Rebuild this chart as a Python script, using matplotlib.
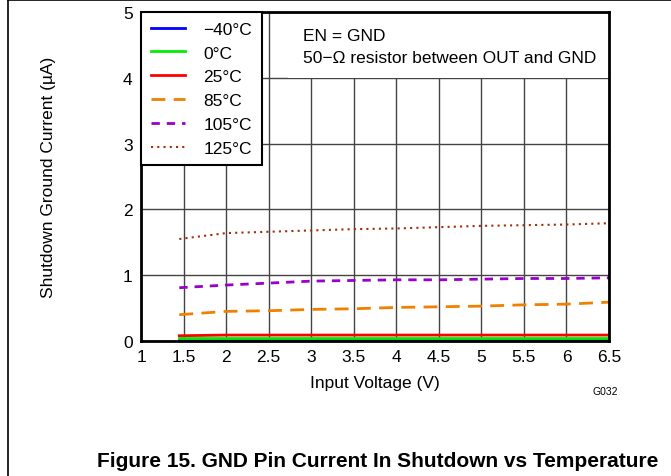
import matplotlib
matplotlib.use("Agg")
import matplotlib.pyplot as plt
from matplotlib.lines import Line2D
from matplotlib.patches import Rectangle

plt.rcParams['font.family'] = ['Liberation Sans', 'DejaVu Sans']

vin = [1.45, 2.0, 2.5, 3.0, 3.5, 4.0, 4.5, 5.0, 5.5, 6.0, 6.5]
i_m40 = [0.02, 0.02, 0.02, 0.02, 0.02, 0.02, 0.02, 0.02, 0.02, 0.02, 0.02]
i_0 = [0.05, 0.05, 0.05, 0.05, 0.05, 0.05, 0.05, 0.05, 0.05, 0.05, 0.05]
i_25 = [0.08, 0.09, 0.09, 0.09, 0.09, 0.09, 0.09, 0.09, 0.09, 0.09, 0.09]
i_85 = [0.40, 0.45, 0.46, 0.48, 0.49, 0.51, 0.52, 0.53, 0.55, 0.56, 0.59]
i_105 = [0.81, 0.85, 0.88, 0.91, 0.92, 0.93, 0.93, 0.94, 0.95, 0.95, 0.96]
i_125 = [1.55, 1.64, 1.66, 1.68, 1.70, 1.71, 1.73, 1.75, 1.76, 1.77, 1.79]

labels = ['\u221240\u00b0C', '0\u00b0C', '25\u00b0C', '85\u00b0C', '105\u00b0C', '125\u00b0C']
series = [i_m40, i_0, i_25, i_85, i_105, i_125]
colors = ['#0000FF', '#00EE00', '#FF0000', '#F08000', '#9900CC', '#A0300A']
styles = ['-', '-', '-', (0, (5, 3)), (0, (3, 2.5)), (0, (1, 2))]
widths = [2, 2, 2, 2, 2, 1.5]

xticks = [1, 1.5, 2, 2.5, 3, 3.5, 4, 4.5, 5, 5.5, 6, 6.5]
xticklabels = ['1', '1.5', '2', '2.5', '3', '3.5', '4', '4.5', '5', '5.5', '6', '6.5']
yticks = [0, 1, 2, 3, 4, 5]

FS = 12.5

fig = plt.figure(figsize=(6.71, 4.77), dpi=100)
ax = fig.add_axes([141/671, 1 - 342/477, (609-141)/671, (342-13)/477])

for y, lab, c, ls, lw in zip(series, labels, colors, styles, widths):
    ax.plot(vin, y, color=c, linestyle=ls, linewidth=lw, label=lab, zorder=3)

ax.set_xlim(1, 6.5)
ax.set_ylim(0, 5)
ax.set_xticks(xticks)
ax.set_xticklabels(xticklabels)
ax.set_yticks(yticks)
ax.tick_params(length=0, labelsize=FS, pad=6)
ax.grid(True, color='#444444', linewidth=1.0)
ax.set_axisbelow(True)
for s in ax.spines.values():
    s.set_linewidth(2)
    s.set_zorder(6)

ax.set_xlabel('Input Voltage (V)', fontsize=FS, labelpad=8)
ax.set_ylabel('Shutdown Ground Current (\u00b5A)', fontsize=FS, labelpad=48)

# white box behind annotation text
ax.add_patch(Rectangle((2.73, 4.0), 3.77, 1.0, facecolor='white', edgecolor='none', zorder=1.5))
ax.text(2.9, 4.65, 'EN = GND', fontsize=FS, va='center', zorder=5)
ax.text(2.9, 4.31, '50\u2212\u03a9 resistor between OUT and GND', fontsize=FS, va='center', zorder=5)

leg = ax.legend(loc='upper left', bbox_to_anchor=(0, 1), fontsize=FS, frameon=True,
                fancybox=False, edgecolor='black', framealpha=1, handlelength=2.0,
                handletextpad=1.05, labelspacing=0.5, borderpad=0.55, borderaxespad=0)
leg.get_frame().set_linewidth(1.5)
leg.set_zorder(7)

fig.text(605/671, 1 - 392/477, 'G032', fontsize=7.5, ha='center', va='center')
fig.text(378/671, 1 - 462/477, 'Figure 15. GND Pin Current In Shutdown vs Temperature',
         fontsize=15, fontweight='bold', ha='center', va='center')

# page frame lines (top and left)
fig.add_artist(Line2D([8/671, 1], [1 - 0.5/477, 1 - 0.5/477], color='black', linewidth=1.2,
                      transform=fig.transFigure))
fig.add_artist(Line2D([8/671, 8/671], [0, 1], color='black', linewidth=1.2,
                      transform=fig.transFigure))

fig.savefig('out.png', dpi=100)
